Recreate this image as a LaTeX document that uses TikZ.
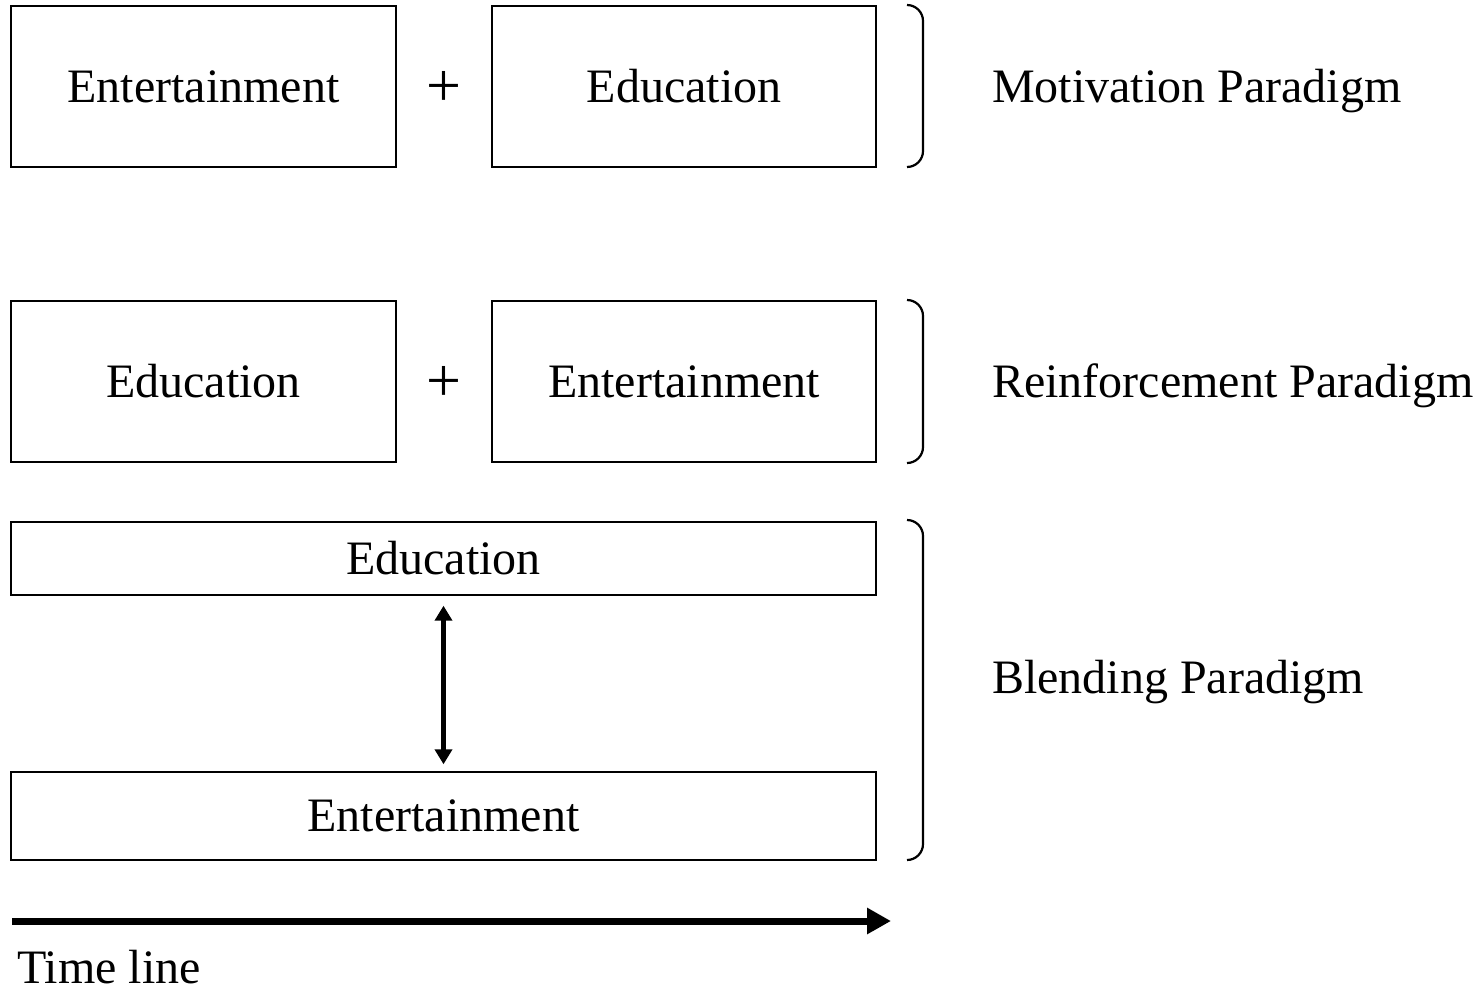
\documentclass[tikz,border=0pt]{standalone}
\usepackage{fontspec}
\setmainfont{Liberation Serif}
\usetikzlibrary{arrows.meta}
\begin{document}
\begin{tikzpicture}[x=1pt,y=-1pt,
  box/.style={draw,line width=1.4pt,font=\fontsize{48}{56}\selectfont},
  lbl/.style={anchor=base west,font=\fontsize{48}{56}\selectfont,inner sep=0pt},
  plus/.style={font=\fontsize{62}{70}\selectfont,inner sep=0pt},
  brk/.style={line width=2.2pt,rounded corners=16pt}]
\useasboundingbox (0,0) rectangle (1480,991);
% row 1
\node[box,minimum width=385pt,minimum height=161pt] (a1) at (203.5,86.5) {Entertainment};
\node[box,minimum width=384pt,minimum height=161pt] (a2) at (684,86.5) {Education};
\node[plus] (p1) at (444,89) {+};
\draw[brk] (907,5) -- (923,5) -- (923,167) -- (907,167);
\node[lbl] (l1) at (992,102) {Motivation Paradigm};
% row 2
\node[box,minimum width=385pt,minimum height=161pt] (b1) at (203.5,381.5) {Education};
\node[box,minimum width=384pt,minimum height=161pt] (b2) at (684,381.5) {Entertainment};
\node[plus] (p2) at (444,384) {+};
\draw[brk] (907,300) -- (923,300) -- (923,463) -- (907,463);
\node[lbl] (l2) at (992,397) {Reinforcement Paradigm};
% row 3
\node[box,minimum width=865pt,minimum height=73pt] (c1) at (443.5,558.5) {Education};
\node[box,minimum width=865pt,minimum height=88pt] (c2) at (443.5,816) {Entertainment};
\draw[line width=5.5pt,{Triangle[length=15pt,width=17pt]}-{Triangle[length=15pt,width=17pt]}] ([yshift=-10pt]c1.south) -- ([yshift=7pt]c2.north);
\draw[brk] (907,520) -- (923,520) -- (923,860) -- (907,860);
\node[lbl] (l3) at (992,693) {Blending Paradigm};
% timeline
\coordinate (t0) at (12,921);
\coordinate (t1) at (891,921);
\draw[line width=7pt,-{Triangle[length=24pt,width=25pt]}] (t0) -- (t1);
\node[lbl] (tl) at (17,983) {Time line};
\end{tikzpicture}
\end{document}
